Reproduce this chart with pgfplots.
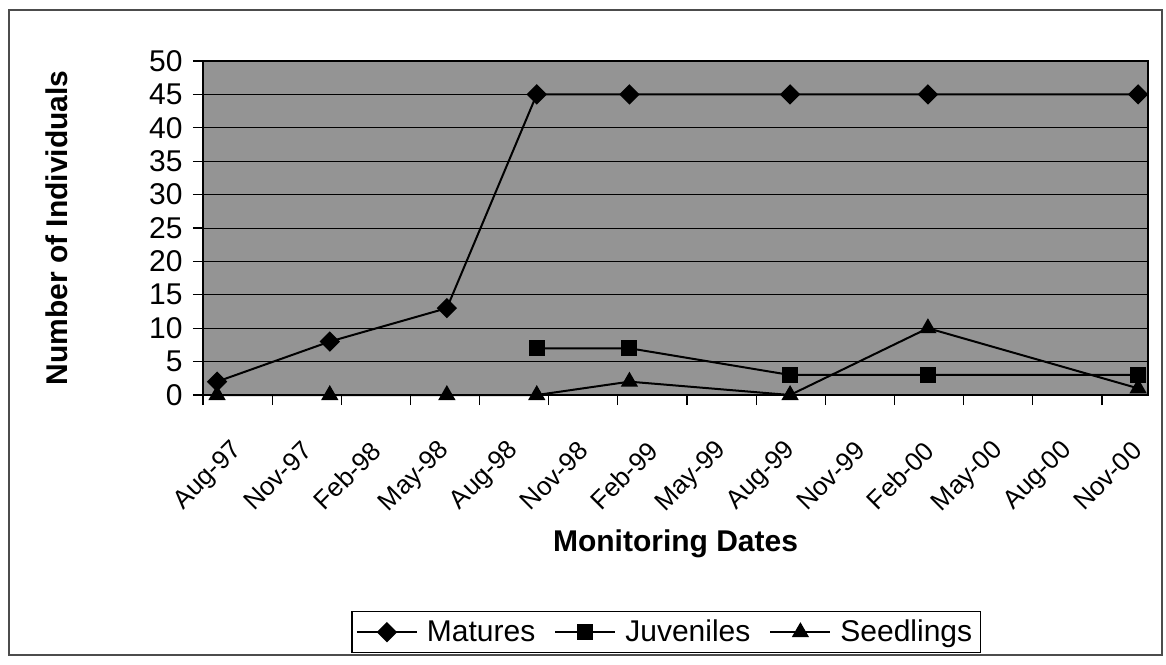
\documentclass[border=0pt]{standalone}
\usepackage{fontspec}
\setmainfont{Liberation Sans}
\usepackage{pgfplots}
\pgfplotsset{compat=1.18}

\begin{document}
\begin{tikzpicture}
\begin{axis}[
    name=ax,
    scale only axis,
    width=472.5pt, height=167pt,
    xmin=0, xmax=41,
    ymin=0, ymax=50,
    clip=false,
    axis background/.style={fill=black!42},
    xtick={0,3,...,39},
    xticklabels={Aug-97,Nov-97,Feb-98,May-98,Aug-98,Nov-98,Feb-99,May-99,Aug-99,Nov-99,Feb-00,May-00,Aug-00,Nov-00},
    ytick={0,5,...,50},
    ymajorgrids,
    grid style={black, line width=0.5pt},
    tick pos=left,
    tick align=outside,
    major tick length=5pt,
    tick style={black, line width=0.6pt},
    axis line style={black, line width=0.8pt},
    /pgf/number format/assume math mode=true,
    yticklabel style={font=\fontsize{15}{17}\selectfont, inner sep=0pt, xshift=-5pt},
    xticklabel style={font=\fontsize{13}{15}\selectfont, rotate=45, anchor=east, inner sep=0pt, yshift=-27pt, xshift=-2pt},
    xlabel={\textbf{Monitoring Dates}},
    ylabel={\textbf{Number of Individuals}},
    label style={font=\fontsize{15}{17}\selectfont},
    xlabel style={at={(axis description cs:0.5,-0.445)}, anchor=center},
    ylabel style={at={(axis description cs:-0.155,0.50)}, anchor=center},
    legend columns=3,
    legend style={
        at={(axis description cs:0.49,-0.71)}, anchor=center,
        draw=black, line width=0.6pt, fill=white,
        font=\fontsize{15}{17}\selectfont,
        inner sep=2pt,
        /tikz/every odd column/.append style={column sep=2.5pt},
        /tikz/every even column/.append style={column sep=7.5pt},
    },
    legend image code/.code={
        \draw[mark repeat=2, mark phase=2] plot coordinates {(0pt,0pt) (15pt,0pt) (30pt,0pt)};
    },
]
% Matures
\addplot[black, line width=1pt, mark=square*, mark size=3.1pt, mark options={rotate=45}] coordinates {
    (0.61,2) (5.5,8) (10.58,13) (14.48,45) (18.5,45) (25.47,45) (31.45,45) (40.57,45)
};
\addlegendentry{Matures}
% Juveniles
\addplot[black, line width=1pt, mark=square*, mark size=3.5pt] coordinates {
    (14.48,7) (18.5,7) (25.47,3) (31.45,3) (40.57,3)
};
\addlegendentry{Juveniles}
% Seedlings
\addplot[black, line width=1pt, mark=triangle*, mark size=4pt] coordinates {
    (0.61,0) (5.5,0) (10.58,0) (14.48,0) (18.5,2) (25.47,0) (31.45,10) (40.57,1)
};
\addlegendentry{Seedlings}

\draw[black!70, line width=0.6pt] (axis description cs:-0.2053,-0.7784) rectangle (axis description cs:1.0148,1.1527);
\coordinate (bbsw) at (axis description cs:-0.2148,-0.8054);
\coordinate (bbne) at (axis description cs:1.0190,1.1826);
\end{axis}
\pgfresetboundingbox
\path (bbsw) rectangle (bbne);
\end{tikzpicture}
\end{document}
